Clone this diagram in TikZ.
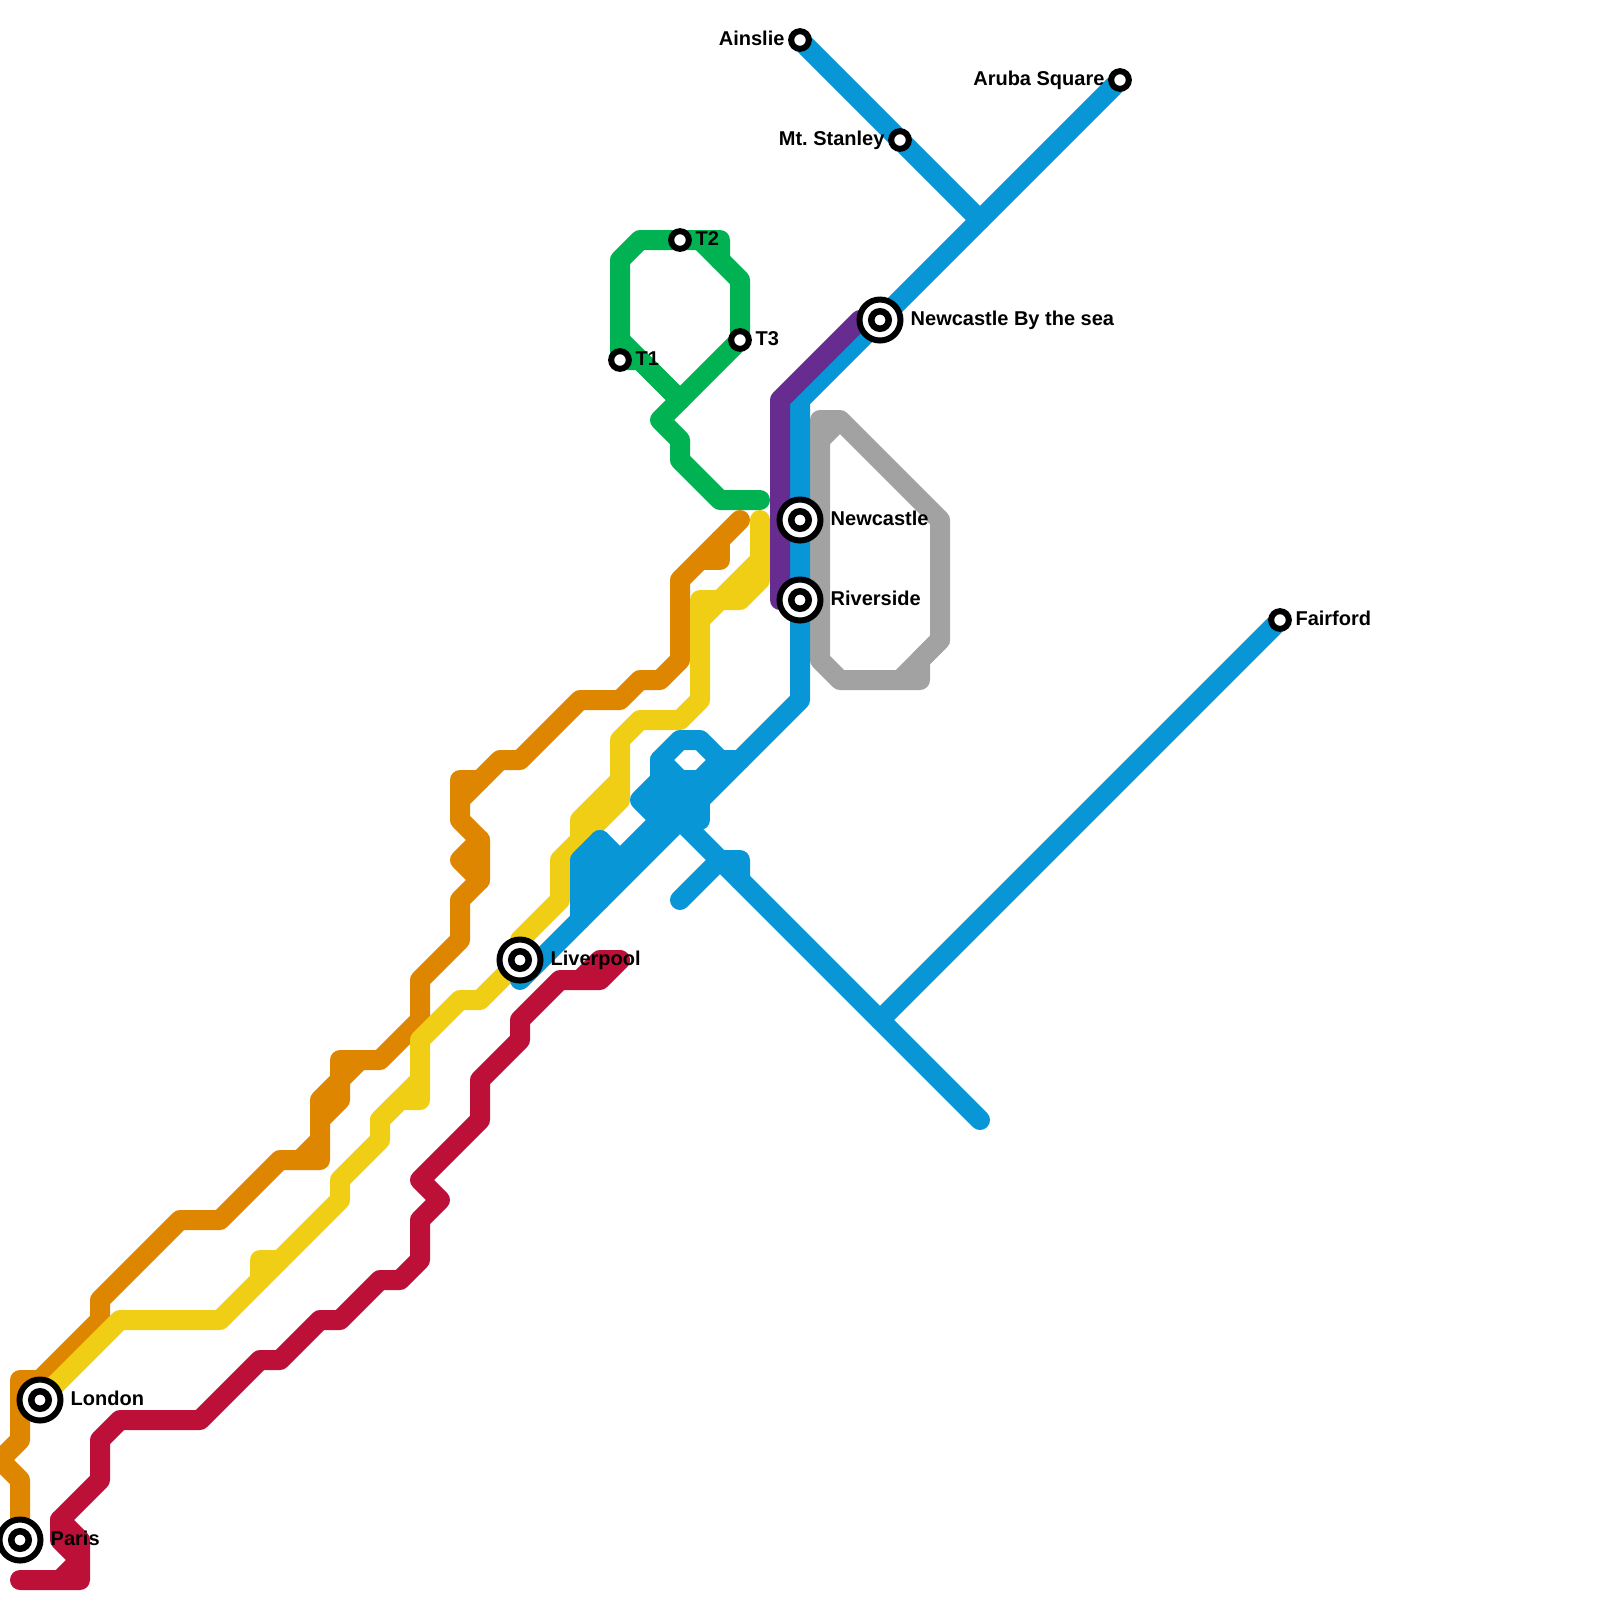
\documentclass[tikz,border=0pt]{standalone}
\usepackage{fontspec}
\setmainfont{Liberation Sans}
\usetikzlibrary{positioning,backgrounds}
\definecolor{corange}{HTML}{DF8600}
\definecolor{cyellow}{HTML}{F0CE15}
\definecolor{cgreen}{HTML}{00B251}
\definecolor{cblue}{HTML}{0896D7}
\definecolor{cpurple}{HTML}{662C90}
\definecolor{cgray}{HTML}{A2A2A2}
\definecolor{cred}{HTML}{BD1038}

\begin{document}
\begin{tikzpicture}[x=0.2cm,y=-0.2cm,
  route/.style={line width=0.2cm,line cap=round,line join=round},
  halt/.style={circle,draw=black,line width=0.06cm,fill=white,inner sep=0pt,minimum size=0.177cm},
  hub/.style={halt,minimum size=0.41cm,
    path picture={\draw[line width=0.065cm] (path picture bounding box.center) circle (0.0875cm);}},
  stn/.style={inner sep=0pt,font=\fontsize{5.69}{7}\selectfont\bfseries\frenchspacing,text height=0.11cm,text depth=0.01cm}]
  \useasboundingbox (0,0) rectangle (80,80);
  \node[halt] (ainslie) at (40,2) {};
  \node[halt] (aruba) at (56,4) {};
  \node[halt] (stanley) at (45,7) {};
  \node[halt] (fairford) at (64,31) {};
  \node[halt] (tone) at (31,18) {};
  \node[halt] (ttwo) at (34,12) {};
  \node[halt] (tthree) at (37,17) {};
  \node[hub] (sea) at (44,16) {};
  \node[hub] (newcastle) at (40,26) {};
  \node[hub] (riverside) at (40,30) {};
  \node[hub] (liverpool) at (26,48) {};
  \node[hub] (london) at (2,70) {};
  \node[hub] (paris) at (1,77) {};
  \node[stn,left=0.03cm of ainslie] (ainslielbl) {Ainslie};
  \node[stn,left=0.03cm of aruba] (arubalbl) {Aruba Square};
  \node[stn,left=0.03cm of stanley] (stanleylbl) {Mt. Stanley};
  \node[stn,right=0.03cm of fairford] (fairfordlbl) {Fairford};
  \node[stn,right=0.03cm of tone] (tonelbl) {T1};
  \node[stn,right=0.03cm of ttwo] (ttwolbl) {T2};
  \node[stn,right=0.03cm of tthree] (tthreelbl) {T3};
  \node[stn,right=0.065cm of sea] (sealbl) {Newcastle By the sea};
  \node[stn,right=0.065cm of newcastle] (newcastlelbl) {Newcastle};
  \node[stn,right=0.065cm of riverside] (riversidelbl) {Riverside};
  \node[stn,right=0.065cm of liverpool] (liverpoollbl) {Liverpool};
  \node[stn,right=0.065cm of london] (londonlbl) {London};
  \node[stn,right=0.065cm of paris] (parislbl) {Paris};
  \coordinate (northfork) at (49,11);
  \coordinate (southfork) at (44,51);
  \begin{scope}[on background layer]
    \draw[route,cgray] (42,21)--(41,21)--(41,33)--(42,34)--(46,34)--(46,33)--(47,32)--(47,26)--(42,21)--(41,22);
    \draw[route,cgray] (45,34)--(47,32);
    \draw[route,cgreen] (tone.center)--(31,13)--(32,12)--(36,12)--(36,13);
    \draw[route,cgreen] (35,12)--(37,14)--(tthree.center)--(33,21)--(34,22)--(34,23)--(36,25)--(38,25);
    \draw[route,cgreen] (31,17)--(34,20);
    \draw[route,cgreen] (tone.center)--(32,18)--(34,20);
    \draw[route,corange] (37,26)--(34,29)--(34,33)--(33,34)--(32,34)--(31,35)--(29,35)--(26,38)--(25,38)--(24,39)--(23,39)--(23,41)--(24,42)--(24,44)--(23,45)--(23,47)--(21,49)--(21,51)--(19,53)--(17,53)--(17,55)--(16,56)--(16,58)--(14,58)--(11,61)--(9,61)--(5,65)--(5,66)--(2,69)--(1,69)--(1,72)--(0,73)--(1,74)--(paris.center);
    \draw[route,corange] (36,27)--(36,28)--(35,28);
    \draw[route,corange] (24,39)--(23,40);
    \draw[route,corange] (24,42)--(23,43)--(24,44);
    \draw[route,corange] (18,53)--(16,55)--(16,56);
    \draw[route,corange] (16,57)--(15,58);
    \draw[route,cyellow] (38,26)--(38,29)--(37,30)--(35,30)--(35,35)--(34,36)--(32,36)--(31,37)--(31,40)--(28,43)--(28,45)--(26,47)--(liverpool.center)--(24,50)--(23,50)--(21,52)--(21,55)--(20,55)--(19,56)--(19,57)--(17,59)--(17,60)--(11,66)--(6,66)--(london.center);
    \draw[route,cyellow] (38,28)--(35,31);
    \draw[route,cyellow] (31,39)--(29,41)--(29,42);
    \draw[route,cyellow] (21,54)--(19,56);
    \draw[route,cyellow] (14,63)--(13,63)--(13,64);
    \draw[route,cred] (1,79)--(4,79)--(4,77)--(3,76)--(5,74)--(5,72)--(6,71)--(10,71)--(13,68)--(14,68)--(16,66)--(17,66)--(19,64)--(20,64)--(21,63)--(21,61)--(22,60)--(21,59)--(24,56)--(24,54)--(26,52)--(26,51)--(28,49)--(30,49)--(31,48)--(30,48)--(29,49);
    \draw[route,cred] (3,76)--(3,77)--(4,78)--(3,79);
    \draw[route,cblue] (ainslie.center)--(stanley.center)--(northfork);
    \draw[route,cblue] (aruba.center)--(northfork)--(sea.center)--(40,20)--(newcastle.center)--(riverside.center)--(40,35)--(26,49);
    \draw[route,cblue] (fairford.center)--(southfork);
    \draw[route,cblue] (49,56)--(southfork)--(34,41);
    \draw[route,cblue] (34,45)--(36,43)--(37,43)--(37,44);
    \draw[route,cblue] (37,38)--(36,38)--(35,37)--(34,37)--(33,38)--(34,39)--(35,39)--(36,38);
    \draw[route,cblue] (33,38)--(33,41);
    \draw[route,cblue] (34,39)--(34,41);
    \draw[route,cblue] (35,39)--(35,41);
    \draw[route,cblue] (33,39)--(32,40)--(33,41)--(31,43)--(30,42)--(29,43)--(29,46);
    \draw[route,cblue] (30,42)--(30,45);
    \draw[route,cblue] (29,44)--(31,43);
    \draw[route,cpurple] (39,30)--(39,20)--(43,16);
  \end{scope}
\end{tikzpicture}
\end{document}
